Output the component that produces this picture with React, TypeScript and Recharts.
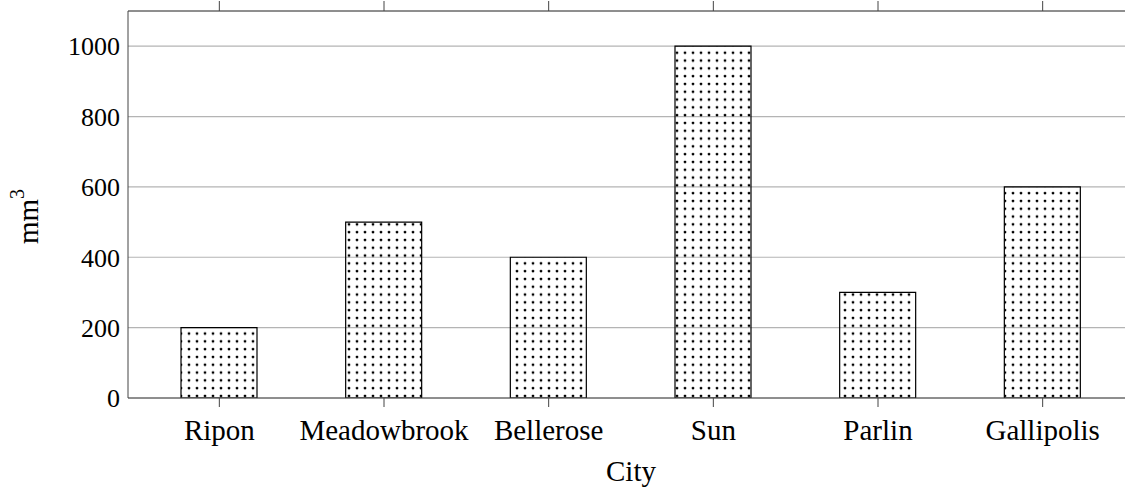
import React from 'react';
import { BarChart, Bar, XAxis, YAxis, CartesianGrid } from 'recharts';

const cities = ['Ripon', 'Meadowbrook', 'Bellerose', 'Sun', 'Parlin', 'Gallipolis'];
const volumes = [200, 500, 400, 1000, 300, 600];
const yTicks = [0, 200, 400, 600, 800, 1000];

const data = cities.map((city, i) => ({ city, value: volumes[i] }));

const FONT = '"Liberation Serif", "DejaVu Serif", serif';

function YLabel({ viewBox }: any) {
  const cx = 28;
  const cy = viewBox.y + viewBox.height / 2 + 12;
  return (
    <text
      x={cx}
      y={cy}
      transform={`rotate(-90, ${cx}, ${cy})`}
      textAnchor="middle"
      dominantBaseline="central"
      fontFamily={FONT}
      fontSize={29}
      fill="#000"
    >
      mm<tspan dy={-11} fontSize={20}>3</tspan>
    </text>
  );
}

export default function App() {
  return (
    <div style={{ position: 'fixed', left: 0, top: 0, width: 1125, height: 490, overflow: 'hidden', background: '#fff' }}>
      <BarChart
        width={1140}
        height={490}
        data={data}
        margin={{ top: 10, right: 6, bottom: 0, left: 0 }}
        barCategoryGap={0}
      >
        <defs>
          <pattern id="dots" patternUnits="userSpaceOnUse" width={8} height={7.8} x={185} y={2}>
            <circle cx={4} cy={4} r={1.4} fill="#000" />
          </pattern>
        </defs>
        <CartesianGrid vertical={false} stroke="#b4b4b4" strokeWidth={1.2} />
        <XAxis
          xAxisId="top"
          orientation="top"
          dataKey="city"
          height={1}
          tick={() => <g />}
          tickSize={10}
          stroke="#444"
          padding={{ left: 9, right: 9 }}
        />
        <XAxis
          dataKey="city"
          height={92}
          tickSize={9}
          tickMargin={12}
          stroke="#444"
          padding={{ left: 9, right: 9 }}
          tick={{ fill: '#000', fontFamily: FONT, fontSize: 29 }}
          label={{ value: 'City', position: 'insideBottom', offset: 9, fill: '#000', fontFamily: FONT, fontSize: 29 }}
        />
        <YAxis
          width={128}
          domain={[0, 1100]}
          ticks={yTicks}
          allowDataOverflow
          tickLine={false}
          tickMargin={2}
          stroke="#444"
          tick={{ fill: '#000', fontFamily: FONT, fontSize: 26 }}
          label={<YLabel />}
        />
        <Bar
          dataKey="value"
          barSize={76}
          fill="url(#dots)"
          stroke="#000"
          strokeWidth={1.2}
          isAnimationActive={false}
        />
      </BarChart>
    </div>
  );
}
